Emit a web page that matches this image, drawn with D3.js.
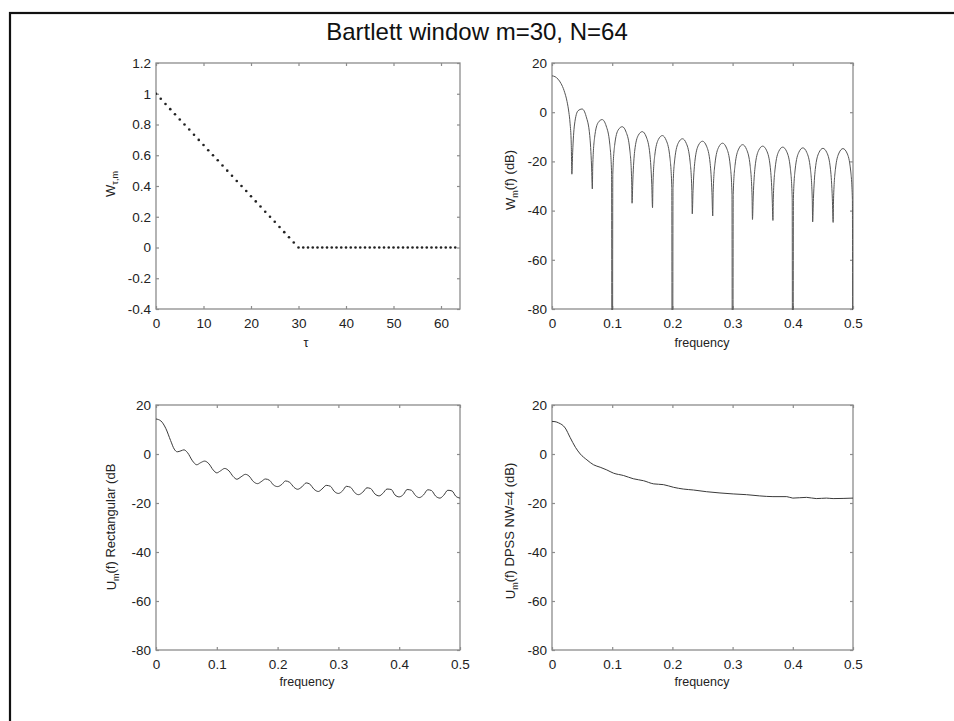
<!DOCTYPE html>
<html>
<head>
<meta charset="utf-8">
<script src="https://cdn.jsdelivr.net/npm/d3@7"></script>
<style>
  body { margin: 0; background: #fff; }
  svg { display: block; font-family: "Liberation Sans", Arial, Helvetica, sans-serif; }
</style>
</head>
<body>
<div id="container"></div>
<script>
// lag window W(tau), tau = 0..63
let lagWindow = [1, 0.967, 0.933, 0.9, 0.867, 0.833, 0.8, 0.767, 0.733, 0.7,
  0.667, 0.633, 0.6, 0.567, 0.533, 0.5, 0.467, 0.433, 0.4, 0.367,
  0.333, 0.3, 0.267, 0.233, 0.2, 0.167, 0.133, 0.1, 0.067, 0.033,
  0, 0, 0, 0, 0, 0, 0, 0, 0, 0, 0, 0, 0, 0, 0, 0, 0, 0, 0, 0,
  0, 0, 0, 0, 0, 0, 0, 0, 0, 0, 0, 0, 0, 0];

// spectral window of the Bartlett lag window (dB)
let bartFreq = [0, 0.005, 0.01, 0.015, 0.02, 0.025, 0.028, 0.03, 0.032, 0.033,
  0.0343, 0.0373, 0.0433, 0.05, 0.0567, 0.0627, 0.0657, 0.067,
  0.0677, 0.0707, 0.0767, 0.0833, 0.09, 0.096, 0.099, 0.1,
  0.101, 0.104, 0.11, 0.1167, 0.1233, 0.1293, 0.1323, 0.133,
  0.1343, 0.1373, 0.1433, 0.15, 0.1567, 0.1627, 0.1657, 0.167,
  0.1677, 0.1707, 0.1767, 0.1833, 0.19, 0.196, 0.199, 0.2,
  0.201, 0.204, 0.21, 0.2167, 0.2233, 0.2293, 0.2323, 0.233,
  0.2343, 0.2373, 0.2433, 0.25, 0.2567, 0.2627, 0.2657, 0.267,
  0.2677, 0.2707, 0.2767, 0.2833, 0.29, 0.296, 0.299, 0.3,
  0.301, 0.304, 0.31, 0.3167, 0.3233, 0.3293, 0.3323, 0.333,
  0.3343, 0.3373, 0.3433, 0.35, 0.3567, 0.3627, 0.3657, 0.367,
  0.3677, 0.3707, 0.3767, 0.3833, 0.39, 0.396, 0.399, 0.4,
  0.401, 0.404, 0.41, 0.4167, 0.4233, 0.4293, 0.4323, 0.433,
  0.4343, 0.4373, 0.4433, 0.45, 0.4567, 0.4627, 0.4657, 0.467,
  0.4677, 0.4707, 0.4767, 0.4833, 0.49, 0.496, 0.499, 0.5];
let bartDb = [14.77, 14.45, 13.44, 11.66, 8.83, 4.32, 0.0, -4.46, -12.9, -25.2,
  -16.5, -5.2, 0.6, 1.3, -1.7, -9.5, -21.9, -31.2,
  -21.9, -10.4, -4.2, -3.0, -5.6, -13.0, -25.1, -300,
  -25.3, -13.6, -7.2, -5.9, -8.2, -15.4, -27.5, -37.0,
  -27.6, -15.9, -9.4, -7.9, -10.1, -17.3, -29.3, -38.8,
  -29.3, -17.6, -11.1, -9.5, -11.6, -18.7, -30.7, -300,
  -30.7, -19.0, -12.4, -10.8, -12.8, -19.9, -31.8, -41.3,
  -31.8, -20.1, -13.4, -11.8, -13.8, -20.8, -32.7, -42.2,
  -32.7, -21.0, -14.3, -12.6, -14.6, -21.5, -33.4, -300,
  -33.5, -21.7, -15.0, -13.2, -15.2, -22.1, -34.0, -43.6,
  -34.1, -22.3, -15.5, -13.8, -15.7, -22.6, -34.5, -44.0,
  -34.5, -22.7, -15.9, -14.2, -16.1, -23.0, -34.8, -300,
  -34.9, -23.1, -16.3, -14.5, -16.4, -23.2, -35.1, -44.6,
  -35.1, -23.3, -16.5, -14.7, -16.5, -23.4, -35.2, -44.8,
  -35.2, -23.4, -16.6, -14.8, -16.6, -23.5, -35.3, -300];

// rectangular taper (dB)
let rectFreq = [0, 0.008, 0.016, 0.024, 0.03, 0.035, 0.041, 0.046, 0.052, 0.06,
  0.067, 0.073, 0.08, 0.087, 0.094, 0.1, 0.106, 0.113, 0.12, 0.127,
  0.133, 0.14, 0.147, 0.153, 0.16, 0.167, 0.173, 0.18, 0.187, 0.193,
  0.2, 0.207, 0.213, 0.22, 0.227, 0.233, 0.24, 0.247, 0.253, 0.26,
  0.267, 0.273, 0.28, 0.287, 0.293, 0.3, 0.307, 0.313, 0.32, 0.327,
  0.333, 0.34, 0.347, 0.353, 0.36, 0.367, 0.373, 0.38, 0.387, 0.393,
  0.4, 0.407, 0.413, 0.42, 0.427, 0.433, 0.44, 0.447, 0.453, 0.46,
  0.467, 0.473, 0.48, 0.487, 0.493, 0.5];
let rectDb = [14.3, 13.5, 10.5, 5.5, 2.0, 0.9, 1.3, 1.7, 0.5, -2.8,
  -4.4, -3.6, -2.9, -4.0, -6.5, -7.7, -6.9, -5.9, -6.9, -9.2,
  -10.3, -9.3, -8.3, -9.0, -11.2, -12.1, -11.3, -10.2, -10.8, -12.6,
  -13.3, -12.4, -11.0, -11.6, -13.6, -14.4, -13.4, -11.8, -12.3, -14.4,
  -15.3, -14.3, -12.8, -13.2, -15.2, -16.1, -15.0, -13.2, -13.6, -15.8,
  -16.6, -15.6, -13.8, -14.1, -16.3, -17.1, -16.1, -14.3, -14.5, -16.7,
  -17.5, -16.5, -14.5, -14.8, -17.0, -17.8, -16.7, -14.6, -14.9, -17.2,
  -18.0, -16.9, -14.8, -15.1, -17.2, -18.0];

// DPSS NW=4 taper (dB)
let dpssFreq = [0, 0.005, 0.011, 0.022, 0.03, 0.039, 0.047, 0.058, 0.069, 0.08,
  0.091, 0.102, 0.119, 0.135, 0.152, 0.169, 0.185, 0.202, 0.218, 0.235,
  0.257, 0.279, 0.301, 0.323, 0.345, 0.367, 0.39, 0.4, 0.423, 0.439,
  0.456, 0.467, 0.5];
let dpssDb = [13.3, 13.2, 12.7, 10.6, 6.8, 2.7, 0, -2.4, -4.4, -5.4,
  -6.5, -7.8, -8.8, -10.1, -10.9, -12.2, -12.5, -13.6, -14.3, -14.7,
  -15.4, -15.9, -16.3, -16.6, -17.1, -17.4, -17.4, -18.0, -17.7, -18.2,
  -18.0, -18.2, -18.0];

let lagTicks = [0, 10, 20, 30, 40, 50, 60];
let winTicks = [-0.4, -0.2, 0, 0.2, 0.4, 0.6, 0.8, 1, 1.2];
let freqTicks = [0, 0.1, 0.2, 0.3, 0.4, 0.5];
let dbTicks = [-80, -60, -40, -20, 0, 20];

let w = 954;
let h = 721;
let viz = d3.select("#container")
  .append("svg")
    .attr("width", w)
    .attr("height", h)
;

// outer frame, runs off the right and bottom of the picture
viz.append("rect")
  .attr("x", 10).attr("y", 13)
  .attr("width", 980).attr("height", 740)
  .attr("fill", "none")
  .attr("stroke", "#111")
  .attr("stroke-width", 2.2);

viz.append("text")
  .attr("x", 477).attr("y", 40)
  .attr("text-anchor", "middle")
  .attr("font-size", 24)
  .attr("fill", "#111")
  .text("Bartlett window m=30, N=64");

let panelCount = 0;
function makePanel(left, top, right, bottom, xDomain, yDomain, xTicks, yTicks){
  panelCount++;
  let x = d3.scaleLinear().domain(xDomain).range([left, right]);
  let y = d3.scaleLinear().domain(yDomain).range([bottom, top]);
  let g = viz.append("g");

  let fmt = function(d){ return String(d); };
  g.append("g").attr("transform", "translate(0," + bottom + ")")
    .call(d3.axisBottom(x).tickValues(xTicks).tickSize(-3).tickPadding(9).tickFormat(fmt));
  g.append("g").attr("transform", "translate(0," + top + ")")
    .call(d3.axisTop(x).tickValues(xTicks).tickSize(-3).tickFormat(""));
  g.append("g").attr("transform", "translate(" + left + ",0)")
    .call(d3.axisLeft(y).tickValues(yTicks).tickSize(-3).tickPadding(5).tickFormat(fmt));
  g.append("g").attr("transform", "translate(" + right + ",0)")
    .call(d3.axisRight(y).tickValues(yTicks).tickSize(-3).tickFormat(""));

  g.selectAll(".domain").remove();
  g.selectAll(".tick line").attr("stroke", "#8c8c8c").attr("stroke-width", 1.2);
  g.selectAll(".tick text")
    .attr("font-size", 13.5)
    .attr("fill", "#222")
    .attr("font-family", "Liberation Sans, Arial, sans-serif");

  g.append("rect")
    .attr("x", left).attr("y", top)
    .attr("width", right - left).attr("height", bottom - top)
    .attr("fill", "none")
    .attr("stroke", "#8c8c8c")
    .attr("stroke-width", 1.3);

  let clipId = "clip" + panelCount;
  viz.append("clipPath").attr("id", clipId)
    .append("rect")
      .attr("x", left).attr("y", top - 1)
      .attr("width", right - left).attr("height", bottom - top + 2);

  let plot = g.append("g").attr("clip-path", "url(#" + clipId + ")");
  return { x: x, y: y, g: g, plot: plot };
}

function yLabel(g, px, py, main, sub, rest){
  let t = g.append("text")
    .attr("transform", "translate(" + px + "," + py + ") rotate(-90)")
    .attr("text-anchor", "middle")
    .attr("font-size", 13)
    .attr("fill", "#222");
  t.append("tspan").text(main);
  t.append("tspan").attr("font-size", 9).attr("dy", "0.35em").text(sub);
  if (rest) t.append("tspan").attr("dy", "-0.35em").text(rest);
}

function xLabel(g, px, py, txt){
  g.append("text")
    .attr("x", px).attr("y", py)
    .attr("text-anchor", "middle")
    .attr("font-size", 12.5)
    .attr("fill", "#222")
    .text(txt);
}

function drawLine(p, xs, ys, color){
  let pts = xs.map(function(f, i){ return [f, ys[i]]; });
  let lineMaker = d3.line()
    .x(function(d){ return p.x(d[0]); })
    .y(function(d){ return p.y(d[1]); })
    .curve(d3.curveMonotoneX);
  p.plot.append("path")
    .datum(pts)
    .attr("d", lineMaker)
    .attr("fill", "none")
    .attr("stroke", color)
    .attr("stroke-width", 1);
}

// top left: the lag window itself
let p1 = makePanel(156, 63, 460, 309, [0, 64], [-0.4, 1.2], lagTicks, winTicks);
p1.plot.selectAll("circle")
  .data(lagWindow)
  .enter()
  .append("circle")
    .attr("cx", function(d, i){ return p1.x(i); })
    .attr("cy", function(d){ return p1.y(d); })
    .attr("r", 1.3)
    .attr("fill", "#222");
yLabel(p1.g, 115, 184, "W", "τ,m");
xLabel(p1.g, 306, 347, "τ");

// top right
let p2 = makePanel(552, 63, 853, 309, [0, 0.5], [-80, 20], freqTicks, dbTicks);
drawLine(p2, bartFreq, bartDb, "#555");
yLabel(p2.g, 515, 180, "W", "m", "(f) (dB)");
xLabel(p2.g, 702, 347, "frequency");

// bottom left
let p3 = makePanel(156, 405, 460, 650, [0, 0.5], [-80, 20], freqTicks, dbTicks);
drawLine(p3, rectFreq, rectDb, "#3a3a3a");
yLabel(p3.g, 116, 527, "U", "m", "(f) Rectangular (dB");
xLabel(p3.g, 307, 686, "frequency");

// bottom right
let p4 = makePanel(552, 405, 853, 650, [0, 0.5], [-80, 20], freqTicks, dbTicks);
drawLine(p4, dpssFreq, dpssDb, "#3a3a3a");
yLabel(p4.g, 515, 531, "U", "m", "(f) DPSS NW=4 (dB)");
xLabel(p4.g, 702, 686, "frequency");
</script>
</body>
</html>
